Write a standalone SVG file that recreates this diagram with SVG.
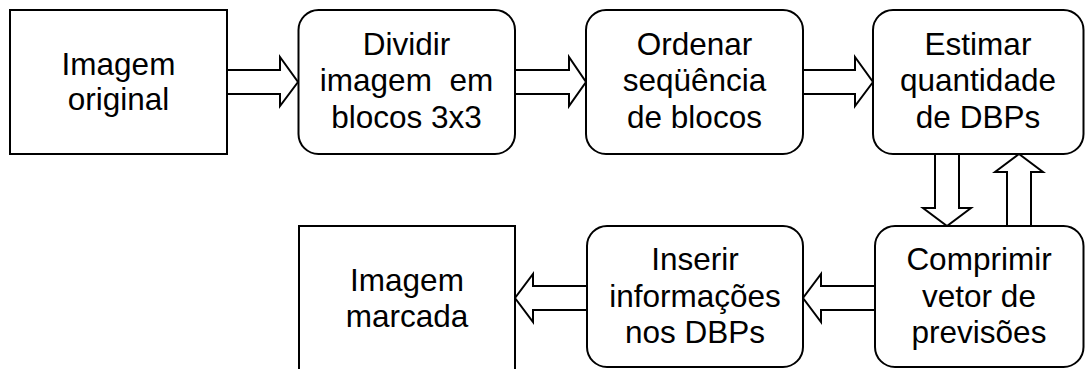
<svg xmlns="http://www.w3.org/2000/svg" width="1085" height="369" viewBox="0 0 1085 369">
<style>
.box{fill:#fff;stroke:#000;stroke-width:2}
.arr{fill:#fff;stroke:#000;stroke-width:2;stroke-linejoin:miter}
text{font-family:"Liberation Sans",Arial,sans-serif;font-size:31.5px;fill:#000;text-anchor:middle}
</style>
<rect width="1085" height="369" fill="#fff"/>
<g id="connectors">
<polygon class="arr" points="227,70 280,70 280,57 298,82 280,106 280,94 227,94"/>
<polygon class="arr" points="515,70 569,70 569,57 586,82 569,106 569,94 515,94"/>
<polygon class="arr" points="803,70 855,70 855,57 873,82 855,106 855,94 803,94"/>
<polygon class="arr" points="935,154 959,154 959,208 971,208 947,226 923,208 935,208"/>
<polygon class="arr" points="1007,226 1031,226 1031,172 1043,172 1019,154 995,172 1007,172"/>
<polygon class="arr" points="875,286 821,286 821,274 803,298 821,322 821,310 875,310"/>
<polygon class="arr" points="587,286 533,286 533,274 515,298 533,322 533,310 587,310"/>
</g>
<g id="n1">
<rect class="box" x="10" y="10" width="217" height="144"/>
<text x="118.5" y="74.5">Imagem</text>
<text x="118.5" y="110">original</text>
</g>
<g id="n2">
<rect class="box" x="298.5" y="10" width="216.5" height="144" rx="20"/>
<text x="406.5" y="54.5">Dividir</text>
<text x="406.5" y="91" xml:space="preserve">imagem  em</text>
<text x="406.5" y="127.5">blocos 3x3</text>
</g>
<g id="n3">
<rect class="box" x="586" y="10" width="217" height="144" rx="20"/>
<text x="694.5" y="54.5">Ordenar</text>
<text x="694.5" y="91">seqüência</text>
<text x="694.5" y="127.5">de blocos</text>
</g>
<g id="n4">
<rect class="box" x="873" y="10" width="210.5" height="144" rx="20"/>
<text x="978" y="54.5">Estimar</text>
<text x="978" y="91">quantidade</text>
<text x="978" y="127.5">de DBPs</text>
</g>
<g id="n5">
<rect class="box" x="875" y="226" width="208.5" height="141" rx="20"/>
<text x="979" y="270">Comprimir</text>
<text x="979" y="306.5">vetor de</text>
<text x="979" y="343">previsões</text>
</g>
<g id="n6">
<rect class="box" x="587" y="226" width="216" height="141" rx="20"/>
<text x="695" y="270">Inserir</text>
<text x="695" y="306.5">informações</text>
<text x="695" y="343">nos DBPs</text>
</g>
<g id="n7">
<rect class="box" x="299" y="226" width="216" height="144"/>
<text x="407" y="291">Imagem</text>
<text x="407" y="327">marcada</text>
</g>
</svg>
